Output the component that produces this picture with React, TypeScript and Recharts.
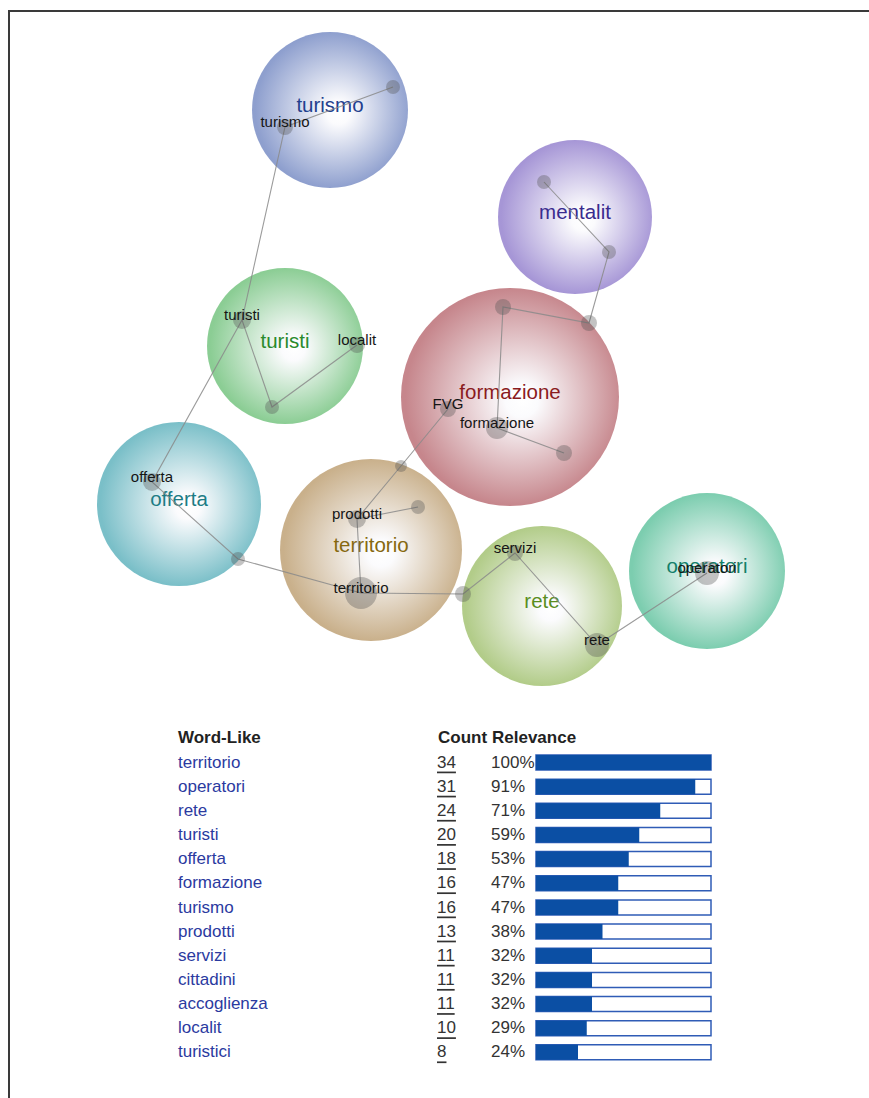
import React from "react";
import { ScatterChart, Scatter, XAxis, YAxis, BarChart, Bar } from "recharts";

// concept map themes (map coordinates)
const themeNames = ["turismo", "mentalit", "turisti", "formazione", "offerta", "territorio", "rete", "operatori"];
const themeX = [330, 575, 285, 510, 179, 371, 542, 707];
const themeY = [110, 217, 346, 397, 504, 550, 606, 571];
const themeR = [78, 77, 78, 109, 82, 91, 80, 78];

// concepts inside the themes
const nodeLabels = ["", "turismo", "turisti", "localit", "", "offerta", "", "", "", "", "", "FVG", "formazione", "", "", "prodotti", "", "territorio", "", "servizi", "rete", "operatori"];
const nodeX = [393, 285, 242, 357, 272, 152, 238, 544, 609, 589, 503, 448, 497, 564, 401, 357, 418, 361, 463, 515, 597, 707];
const nodeY = [87, 127, 320, 345, 407, 482, 559, 182, 252, 323, 307, 409, 428, 453, 466, 519, 507, 593, 594, 553, 645, 573];
const nodeWeight = [7, 8, 9, 8, 7, 9, 7, 7, 7, 8, 8, 8, 11, 8, 6, 9, 7, 16, 8, 8, 12, 12];

// links, as chains of concept indexes
const linkChains = [
  [0, 1, 2, 5, 6, 17, 18, 19, 20, 21],
  [2, 4, 3],
  [17, 15, 14, 11],
  [15, 16],
  [7, 8, 9, 10, 12, 13],
];

// table
const words = ["territorio", "operatori", "rete", "turisti", "offerta", "formazione", "turismo", "prodotti", "servizi", "cittadini", "accoglienza", "localit", "turistici"];
const counts = [34, 31, 24, 20, 18, 16, 16, 13, 11, 11, 11, 10, 8];
const relevance = [100, 91, 71, 59, 53, 47, 47, 38, 32, 32, 32, 29, 24];

const bubbleColors = ["#8e9fce", "#a696d6", "#8bcd94", "#c6868c", "#7abfc8", "#c9b08b", "#b2cc89", "#7ccdaf"];
const themeTextColors = ["#233f8e", "#3a2b8f", "#2a8a2c", "#8a1b1e", "#1d7c85", "#86680f", "#5a8e1f", "#14806a"];

const FONT = "'Liberation Sans', Arial, sans-serif";

const themes = themeNames.map((name, i) => ({ name, x: themeX[i], y: themeY[i], r: themeR[i], i }));
const nodes = nodeLabels.map((label, i) => ({ label, x: nodeX[i], y: nodeY[i], r: nodeWeight[i] }));
const rows = words.map((word, i) => ({ word, count: counts[i], relevance: relevance[i] }));

const Bubble = (props: any) => {
  const { cx, cy, payload } = props;
  return (
    <g>
      <circle cx={cx} cy={cy} r={payload.r} fill={`url(#bub${payload.i})`} />
      <text
        x={cx}
        y={cy - 6}
        textAnchor="middle"
        dominantBaseline="central"
        fontSize={20.5}
        fontFamily={FONT}
        fill={themeTextColors[payload.i]}
      >
        {payload.name}
      </text>
    </g>
  );
};

const Node = (props: any) => {
  const { cx, cy, payload } = props;
  return (
    <g>
      <circle cx={cx} cy={cy} r={payload.r} fill="rgba(80,80,80,0.34)" />
      {payload.label && (
        <text
          x={cx}
          y={cy - 6}
          textAnchor="middle"
          dominantBaseline="central"
          fontSize={15}
          fontFamily={FONT}
          fill="#151515"
        >
          {payload.label}
        </text>
      )}
    </g>
  );
};

const RowTick = (props: any) => {
  const { y, payload } = props;
  const row = rows[payload.index];
  return (
    <g fontFamily={FONT} fontSize={17} dominantBaseline="central">
      <text x={178} y={y} fill="#2b3a9f">{row.word}</text>
      <text x={437} y={y} fill="#333" textDecoration="underline">{row.count}</text>
      <text x={491} y={y} fill="#333">{row.relevance}%</text>
    </g>
  );
};

const headStyle: React.CSSProperties = {
  position: "absolute",
  top: 728,
  fontFamily: FONT,
  fontWeight: "bold",
  fontSize: 17,
  lineHeight: "20px",
  color: "#222",
};

export default function App() {
  return (
    <div style={{ position: "absolute", left: 0, top: 0, width: 869, height: 1098, overflow: "hidden", background: "#fff" }}>
      <div
        style={{
          position: "absolute",
          left: 8,
          top: 10,
          width: 900,
          height: 1200,
          borderLeft: "2px solid #3a3a3a",
          borderTop: "2px solid #3a3a3a",
        }}
      />
      <div style={{ position: "absolute", left: 0, top: 0 }}>
        <ScatterChart width={869} height={700} margin={{ top: 0, right: 0, bottom: 0, left: 0 }}>
          <defs>
            {bubbleColors.map((c, i) => (
              <radialGradient key={i} id={`bub${i}`} cx="52%" cy="50%" r="50%" fx="56%" fy="52%">
                <stop offset="0%" stopColor="#ffffff" />
                <stop offset="15%" stopColor="#fbfbfd" />
                <stop offset="100%" stopColor={c} />
              </radialGradient>
            ))}
          </defs>
          <XAxis type="number" dataKey="x" domain={[0, 869]} hide />
          <YAxis type="number" dataKey="y" domain={[0, 700]} reversed hide />
          <Scatter data={themes} shape={Bubble} isAnimationActive={false} />
          {linkChains.map((chain, k) => (
            <Scatter
              key={k}
              data={chain.map((n) => ({ x: nodeX[n], y: nodeY[n] }))}
              line={{ stroke: "#8a8a8a", strokeWidth: 1.1, strokeOpacity: 0.85 }}
              lineType="joint"
              shape={() => <g />}
              isAnimationActive={false}
            />
          ))}
          <Scatter data={nodes} shape={Node} isAnimationActive={false} />
        </ScatterChart>
      </div>

      <div style={{ ...headStyle, left: 178 }}>Word-Like</div>
      <div style={{ ...headStyle, left: 438 }}>Count</div>
      <div style={{ ...headStyle, left: 492 }}>Relevance</div>

      <div style={{ position: "absolute", left: 0, top: 750 }}>
        <BarChart
          layout="vertical"
          width={721}
          height={314}
          data={rows}
          margin={{ top: 0, right: 10, bottom: 0, left: 0 }}
          barSize={15}
        >
          <XAxis type="number" domain={[0, 100]} hide />
          <YAxis
            type="category"
            dataKey="word"
            width={536}
            axisLine={false}
            tickLine={false}
            interval={0}
            tick={RowTick}
          />
          <Bar
            dataKey="relevance"
            fill="#0b4fa4"
            background={{ fill: "#fff", stroke: "#2f5cb6", strokeWidth: 1.5 }}
            isAnimationActive={false}
          />
        </BarChart>
      </div>
    </div>
  );
}
